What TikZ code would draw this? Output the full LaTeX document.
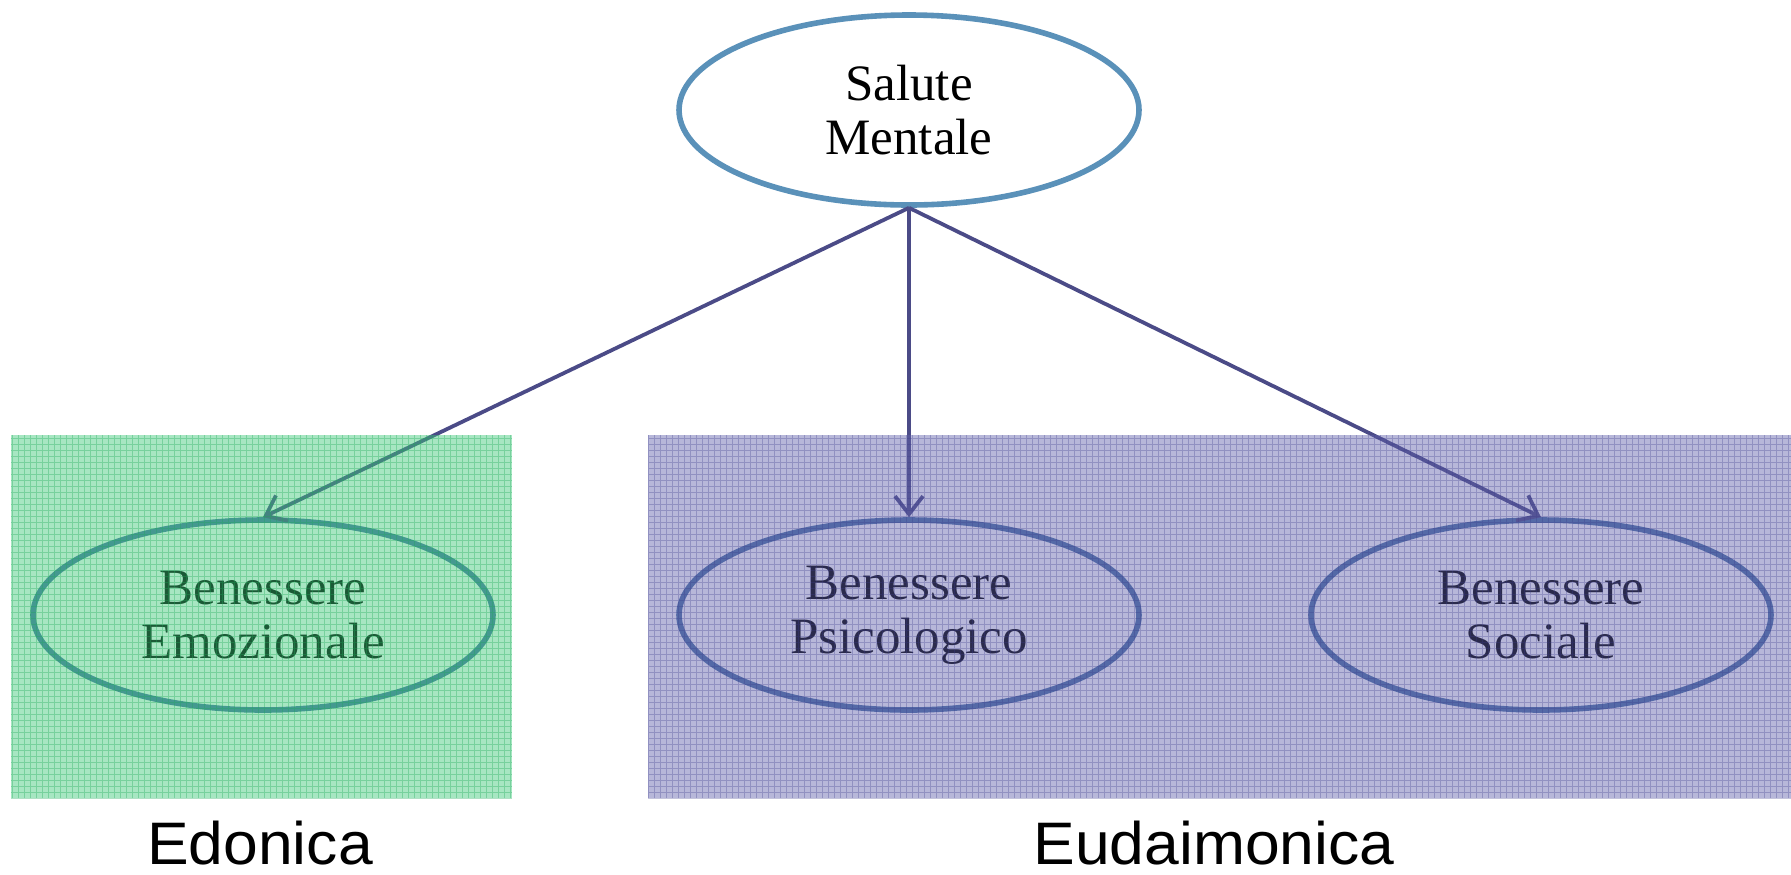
\documentclass[tikz,border=0pt]{standalone}
\usepackage{fontspec}
\setmainfont{Liberation Serif}
\newfontfamily\labfont{Liberation Sans}
\usetikzlibrary{shapes.geometric,arrows.meta}
\definecolor{topline}{RGB}{90,145,185}
\definecolor{subline}{RGB}{75,115,165}
\definecolor{arrowc}{RGB}{75,75,135}
\definecolor{greenfill}{RGB}{60,200,120}
\definecolor{greengrid}{RGB}{30,170,90}
\definecolor{bluefill}{RGB}{95,95,170}
\definecolor{bluegrid}{RGB}{60,60,140}
\tikzset{
  oval/.style={ellipse, draw, line width=2.8pt, minimum width=230pt, minimum height=95pt,
    inner sep=0pt, align=center, font=\fontsize{25.5}{27}\selectfont},
  conn/.style={draw=arrowc, line width=1.9pt, -{Straight Barb[length=9pt,width=14pt,line width=1.9pt]}},
  lab/.style={font=\labfont\fontsize{30}{34}\selectfont, anchor=base, inner sep=0pt, xscale=1.04}
}
\begin{document}
\begin{tikzpicture}[x=0.5pt,y=-0.5pt]
\useasboundingbox (0,0) rectangle (1791,874);
\node[oval, draw=topline] (top) at (909,110) {Salute\\Mentale};
\node[oval, draw=subline] (emo) at (263,615) {Benessere\\Emozionale};
\node[oval, draw=subline] (psi) at (909,615) {Benessere\\Psicologico};
\node[oval, draw=subline] (soc) at (1541,615) {Benessere\\Sociale};
\draw[conn] (top.south) -- (emo.north);
\draw[conn] (top.south) -- (psi.north);
\draw[conn] (top.south) -- (soc.north);
% overlays
\fill[greenfill, opacity=0.45] (11,435) rectangle (512,798);
\begin{scope}
\clip (11,435) rectangle (512,798);
\draw[greengrid, opacity=0.35, line width=0.5pt, step=3pt] (11,435) grid (512,798);
\end{scope}
\fill[bluefill, opacity=0.45] (648,435) rectangle (1791,798);
\begin{scope}
\clip (648,435) rectangle (1791,798);
\draw[bluegrid, opacity=0.3, line width=0.5pt, step=3pt] (648,435) grid (1791,798);
\end{scope}
\node[lab] (edo) at (260,864) {Edonica};
\node[lab] (eud) at (1214,864) {Eudaimonica};
\end{tikzpicture}
\end{document}
